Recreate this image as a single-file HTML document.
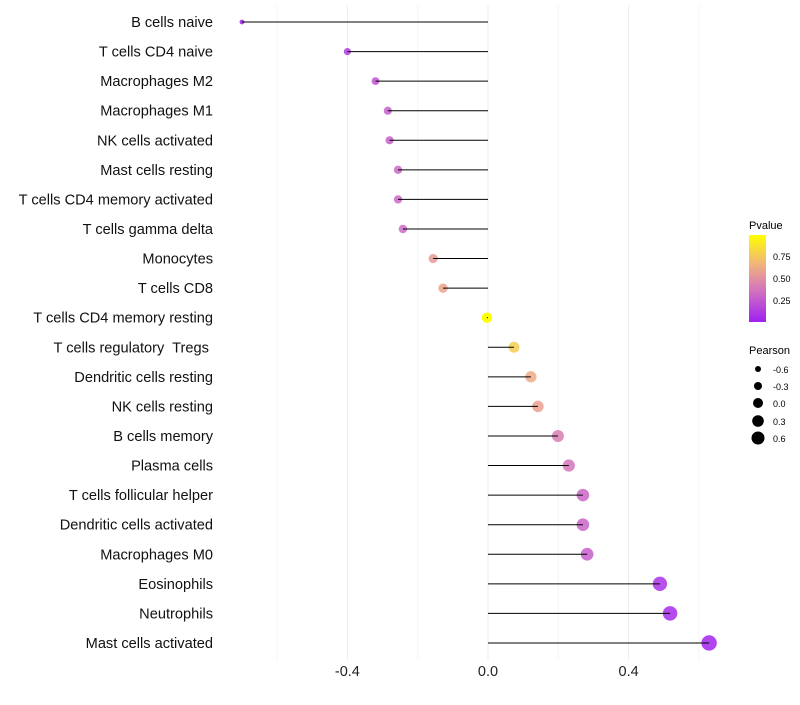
<!DOCTYPE html>
<html><head><meta charset="utf-8"><style>
body{margin:0;background:#fff;font-family:"Liberation Sans",sans-serif}
text{white-space:pre}
</style></head><body>
<svg id="chart" width="800" height="700" xmlns="http://www.w3.org/2000/svg" font-family="Liberation Sans, sans-serif">
<defs>
<linearGradient id="pg" x1="0" y1="1" x2="0" y2="0">
<stop offset="0" stop-color="#A020F0"/><stop offset="0.35" stop-color="#D070C0"/><stop offset="0.65" stop-color="#F0B080"/><stop offset="1" stop-color="#FFFF00"/>
</linearGradient>
</defs>
<g id="grid"></g><g id="marks"></g><g id="labels"></g>
<g>
<text x="749" y="229" font-size="11">Pvalue</text>
<rect x="749" y="235" width="17" height="87" fill="url(#pg)"/>
<text x="773" y="260" font-size="9">0.75</text>
<text x="773" y="282" font-size="9">0.50</text>
<text x="773" y="304" font-size="9">0.25</text>
</g>
<g>
<text x="749" y="354" font-size="11">Pearson</text>
<circle cx="758" cy="369" r="3" fill="#000"/><text x="773" y="373" font-size="9">-0.6</text>
<circle cx="758" cy="386" r="4" fill="#000"/><text x="773" y="390" font-size="9">-0.3</text>
<circle cx="758" cy="403" r="5" fill="#000"/><text x="773" y="407" font-size="9">0.0</text>
<circle cx="758" cy="421" r="5.8" fill="#000"/><text x="773" y="425" font-size="9">0.3</text>
<circle cx="758" cy="438" r="6.5" fill="#000"/><text x="773" y="442" font-size="9">0.6</text>
</g>
</svg>
<script>
const categories=["B cells naive","T cells CD4 naive","Macrophages M2","Macrophages M1","NK cells activated","Mast cells resting","T cells CD4 memory activated","T cells gamma delta","Monocytes","T cells CD8","T cells CD4 memory resting","T cells regulatory  Tregs ","Dendritic cells resting","NK cells resting","B cells memory","Plasma cells","T cells follicular helper","Dendritic cells activated","Macrophages M0","Eosinophils","Neutrophils","Mast cells activated"];
const pearson=[-0.70,-0.40,-0.32,-0.285,-0.28,-0.256,-0.256,-0.242,-0.156,-0.128,-0.003,0.074,0.122,0.142,0.199,0.230,0.270,0.270,0.282,0.489,0.518,0.629];
const pvalue=[0.0,0.12,0.22,0.27,0.28,0.31,0.31,0.33,0.55,0.6,1.0,0.78,0.62,0.58,0.42,0.38,0.3,0.3,0.27,0.08,0.05,0.02];
const xTicks=[-0.4,0.0,0.4];
const xTickLabels=["-0.4","0.0","0.4"];
const gridVals=[-0.6,-0.4,-0.2,0,0.2,0.4,0.6];
const NS="http://www.w3.org/2000/svg";
const x=v=>488+v*351.5;
const y=i=>22+i*29.57;
const r=v=>5.2+4*v;
const stops=[[0,[160,32,240]],[0.35,[208,112,192]],[0.65,[240,176,128]],[1,[255,255,0]]];
function col(p){for(let k=1;k<stops.length;k++){if(p<=stops[k][0]){const a=stops[k-1],b=stops[k];const t=(p-a[0])/(b[0]-a[0]);return "rgb("+a[1].map((c,j)=>Math.round(c+(b[1][j]-c)*t)).join(",")+")";}}return "rgb(255,255,0)";}
function mk(tag,attrs,parent){const e=document.createElementNS(NS,tag);for(const k in attrs)e.setAttribute(k,attrs[k]);parent.appendChild(e);return e;}
const grid=document.getElementById('grid'),marks=document.getElementById('marks'),labels=document.getElementById('labels');
gridVals.forEach(v=>{const l=mk('line',{x1:x(v),x2:x(v),y1:5,y2:660,stroke:xTicks.some(t=>Math.abs(t-v)<1e-9)?'#ededed':'#f5f5f5','stroke-width':1},grid);

});
xTicks.forEach((v,i)=>{const t=mk('text',{x:x(v),y:676,'font-size':14.5,'text-anchor':'middle',fill:'#222'},labels);t.textContent=xTickLabels[i];

});
categories.forEach((c,i)=>{
const t=mk('text',{x:213,y:y(i)+5,'font-size':14.6,'text-anchor':'end',fill:'#111'},labels);t.textContent=c;


const ci=mk('circle',{cx:x(pearson[i]),cy:y(i),r:Math.max(1.5,r(pearson[i])),fill:col(pvalue[i]),'fill-opacity':pvalue[i]>0.95?1:0.85},marks);


const ln=mk('line',{x1:x(0),x2:x(pearson[i]),y1:y(i),y2:y(i),stroke:'#000','stroke-width':1},marks);


});
</script>
</body></html>
